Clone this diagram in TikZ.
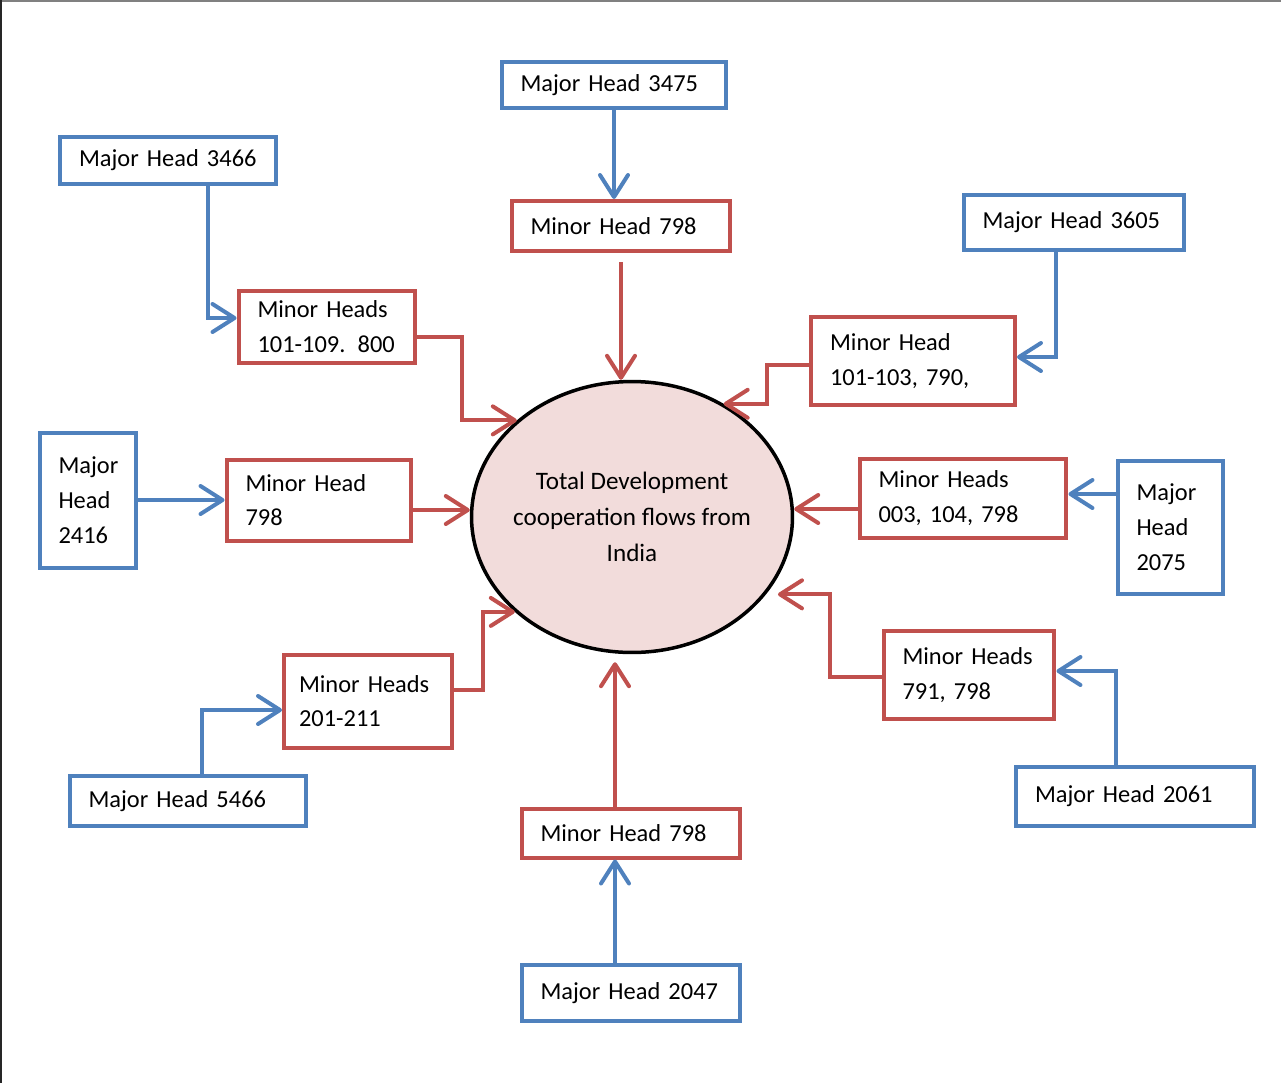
\documentclass[tikz,border=0pt]{standalone}
\usepackage{fontspec}
\setmainfont{Carlito}
\usetikzlibrary{arrows.meta, positioning, calc, shapes.geometric}

\definecolor{headblue}{HTML}{4F81BD}
\definecolor{headred}{HTML}{C0504D}
\definecolor{flowpink}{HTML}{F2DCDB}

\begin{document}
\begin{tikzpicture}[
    x=0.02cm, y=-0.02cm,
    headbox/.style={rectangle, line width=0.08cm, fill=white, align=left, inner xsep=0.38cm, inner ysep=0pt, font=\fontsize{13.9}{19.8}\selectfont},
    major/.style={headbox, draw=headblue},
    minor/.style={headbox, draw=headred},
    sz/.style 2 args={text width=#1, minimum height=#2},
    total/.style={ellipse, draw=black, line width=0.07cm, fill=flowpink, minimum width=6.42cm, minimum height=5.42cm, inner xsep=-0.3cm, inner ysep=0pt, align=center, font=\fontsize{14.3}{20.3}\selectfont},
    bluearrow/.style={-{Straight Barb[length=0.44cm, width=0.56cm, round]}, line width=0.08cm, draw=headblue},
    redarrow/.style={-{Straight Barb[length=0.44cm, width=0.56cm, round]}, line width=0.08cm, draw=headred},
    frame/.style={line width=0.04cm}
]
    \useasboundingbox (0,0) rectangle (1281,1083);

    % page edge
    \draw[frame, draw=black!50] (0,1) -- (1281,1);
    \draw[frame, draw=black!85] (1,0) -- (1,1083);

    % ========== CENTRE ==========
    \node[total] (tdc) at (632,517) {Total Development\\cooperation flows from\\India};

    % ========== MINOR HEADS ==========
    \node[minor, sz={3.62cm}{1.0cm}] (min_798_top) at (621,226) {Minor Head 798};
    \node[minor, sz={2.78cm}{1.44cm}] (min_101_109) at (327,327) {Minor Heads\\101-109. 800};
    \node[minor, sz={3.32cm}{1.76cm}] (min_101_103) at (913,361) {Minor Head\\101-103, 790,};
    \node[minor, sz={2.94cm}{1.62cm}] (min_798_left) at (319,500) {Minor Head\\798};
    \node[minor, sz={3.38cm}{1.58cm}] (min_003) at (963,498) {Minor Heads\\003, 104, 798};
    \node[minor, sz={2.76cm}{1.86cm}, inner xsep=0.3cm] (min_201) at (368,701) {Minor Heads\\201-211};
    \node[minor, sz={2.66cm}{1.76cm}] (min_791) at (969,675) {Minor Heads\\791, 798};
    \node[minor, sz={3.62cm}{0.98cm}] (min_798_bot) at (631,833) {Minor Head 798};

    % ========== MAJOR HEADS ==========
    \node[major, sz={3.74cm}{0.92cm}] (maj_3475) at (614,85) {Major Head 3475};
    \node[major, sz={3.56cm}{0.94cm}] (maj_3466) at (168,160) {Major Head 3466};
    \node[major, sz={3.66cm}{1.1cm}] (maj_3605) at (1074,222) {Major Head 3605};
    \node[major, sz={1.18cm}{2.7cm}] (maj_2416) at (88,500) {Major\\Head\\2416};
    \node[major, sz={1.34cm}{2.66cm}] (maj_2075) at (1170,527) {Major\\Head\\2075};
    \node[major, sz={3.98cm}{1.0cm}] (maj_5466) at (188,801) {Major Head 5466};
    \node[major, sz={4.0cm}{1.18cm}] (maj_2061) at (1135,796) {Major Head 2061};
    \node[major, sz={3.62cm}{1.12cm}] (maj_2047) at (631,993) {Major Head 2047};

    % ========== MAJOR -> MINOR ==========
    \draw[bluearrow] (maj_3475.south) -- (maj_3475.south |- min_798_top.north);
    \draw[bluearrow] ($(maj_3466.south)+(40,0)$) |- ($(min_101_109.west)+(0,-9)$);
    \draw[bluearrow] ($(maj_3605.south)+(-18,0)$) |- ($(min_101_103.east)+(0,-4)$);
    \draw[bluearrow] (maj_2416.east) -- (min_798_left.west);
    \draw[bluearrow] ($(maj_2075.west)+(0,-33)$) -- ($(min_003.east)+(0,-4)$);
    \draw[bluearrow] ($(maj_5466.north)+(14,0)$) |- ($(min_201.west)+(0,9)$);
    \draw[bluearrow] ($(maj_2061.north)+(-19,0)$) |- ($(min_791.east)+(0,-4)$);
    \draw[bluearrow] ($(maj_2047.north)+(-16,0)$) -- ($(min_798_bot.south)+(-16,0)$);

    % ========== MINOR -> CENTRE ==========
    \draw[redarrow] ($(min_798_top.south)+(0,9)$) -- (min_798_top.south |- tdc.north);
    \draw[redarrow] ($(min_101_109.east)+(0,10)$) -- ++(45,0) |- (tdc.140.3);
    \draw[redarrow] ($(min_101_103.west)+(0,4)$) -- ++(-42,0) |- (tdc.51.9);
    \draw[redarrow] ($(min_798_left.east)+(0,10)$) -- ($(tdc.west)+(0,-7)$);
    \draw[redarrow] ($(min_003.west)+(0,11)$) -- ($(tdc.east)+(0,-8)$);
    \draw[redarrow] ($(min_791.west)+(0,2)$) -- ++(-52,0) |- ($(tdc.-30)+(12,0)$);
    \draw[redarrow] ($(min_201.east)+(0,-11)$) -- ++(29,0) |- (tdc.219.1);
    \draw[redarrow] ($(min_798_bot.north)+(-16,0)$) -- ($(min_798_bot.north |- tdc.south)+(-16,8)$);

\end{tikzpicture}
\end{document}
